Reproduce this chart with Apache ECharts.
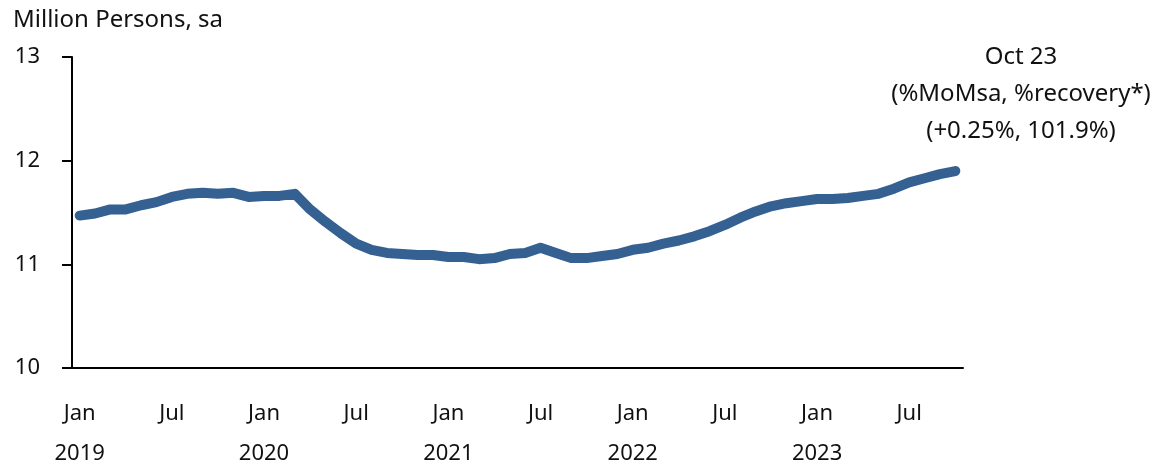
<!DOCTYPE html>
<html>
	<head>
		<meta charset="utf-8" />
		<title></title>
		<script type="text/javascript" src="https://cdn.jsdelivr.net/npm/echarts@6/dist/echarts.min.js"></script>
		<style>
			html, body { margin: 0; padding: 0; background: #fff; }
		</style>
	</head>
	<body>
	    <div id="main" style="width:1166px; height: 470px;"></div>
		<script>
			// 月份 / 年份
			var monthNames = ['Jan','Feb','Mar','Apr','May','Jun','Jul','Aug','Sep','Oct','Nov','Dec'];
			var years      = ['2019','2020','2021','2022','2023'];

			// Million persons, sa (Jan 2019 - Oct 2023)
			var values2019 = [11.47, 11.49, 11.53, 11.53, 11.57, 11.60, 11.65, 11.68, 11.69, 11.68, 11.69, 11.65];
			var values2020 = [11.66, 11.66, 11.68, 11.53, 11.41, 11.30, 11.20, 11.14, 11.11, 11.10, 11.09, 11.09];
			var values2021 = [11.07, 11.07, 11.05, 11.06, 11.10, 11.11, 11.16, 11.11, 11.06, 11.06, 11.08, 11.10];
			var values2022 = [11.14, 11.16, 11.20, 11.23, 11.27, 11.32, 11.38, 11.45, 11.51, 11.56, 11.59, 11.61];
			var values2023 = [11.63, 11.63, 11.64, 11.66, 11.68, 11.73, 11.79, 11.83, 11.87, 11.90];

			var yTicks = [10, 11, 12, 13];
			var noteLines = ['Oct 23', '(%MoMsa, %recovery*)', '(+0.25%, 101.9%)'];

			var values = values2019.concat(values2020, values2021, values2022, values2023);
			var categories = [];
			for (var i = 0; i < values.length; i++) {
				categories.push(monthNames[i % 12] + ' ' + years[Math.floor(i / 12)]);
			}

			var FONT = 'Noto Sans';
			var chartDom = document.getElementById('main');
			var myChart = echarts.init(chartDom);

			function note(txt, y) {
				return {
					type: 'text', x: 1021, y: y,
					style: {
						text: txt, font: '24px "' + FONT + '"', fill: '#111',
						align: 'center', verticalAlign: 'middle'
					}
				};
			}

			var opt = {
				animation: false,
				textStyle: { fontFamily: FONT },
				grid: { left: 72, right: 203, top: 57, bottom: 102, containLabel: false, outerBoundsMode: 'none' },
				graphic: [
					{
						type: 'text', x: 13, y: 20,
						style: { text: 'Million Persons, sa', font: '24px "' + FONT + '"', fill: '#111', verticalAlign: 'middle' }
					},
					note(noteLines[0], 57),
					note(noteLines[1], 94),
					note(noteLines[2], 131)
				],
				xAxis: {
					type: 'category',
					data: categories,
					boundaryGap: true,
					axisLine: { lineStyle: { color: '#000', width: 2 } },
					axisTick: { interval: 5, length: 10, lineStyle: { color: '#000', width: 2 } },
					axisLabel: {
						interval: 5,
						margin: 26,
						fontSize: 22,
						color: '#111',
						lineHeight: 40,
						formatter: function (v) {
							var p = v.split(' ');
							return p[0] === 'Jan' ? p[0] + '\n' + p[1] : p[0] + '\n';
						}
					},
					splitLine: { show: false }
				},
				yAxis: {
					type: 'value',
					min: yTicks[0],
					max: yTicks[yTicks.length - 1],
					interval: 1,
					axisLine: { show: true, lineStyle: { color: '#000', width: 2 } },
					axisTick: { show: true, length: 10, lineStyle: { color: '#000', width: 2 } },
					axisLabel: { fontSize: 22, color: '#111', margin: 32 },
					splitLine: { show: false }
				},
				series: [{
					name: 'Employment',
					type: 'line',
					data: values,
					showSymbol: false,
					smooth: false,
					lineStyle: { color: '#356092', width: 10, cap: 'round', join: 'round' }
				}]
			};

			myChart.setOption(opt);
		</script>
	</body>
</html>
